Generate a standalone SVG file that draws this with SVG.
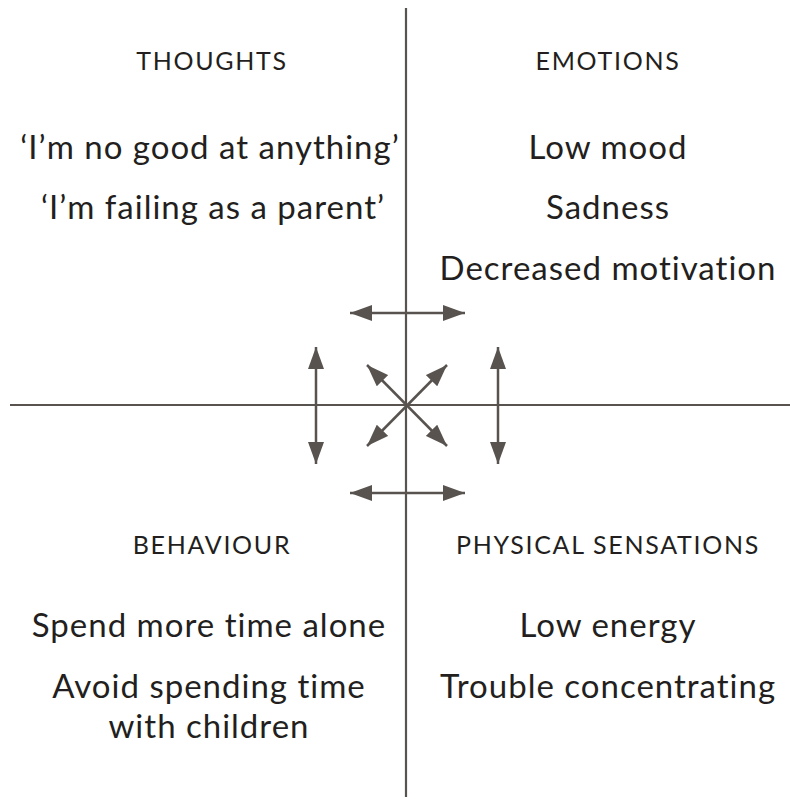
<svg xmlns="http://www.w3.org/2000/svg" width="790" height="799" viewBox="0 0 790 799">
<defs>
<style>
.h{font-family:Lato,"Open Sans","Liberation Sans",sans-serif;font-size:25px;fill:#231f20;text-anchor:middle;letter-spacing:1.7px;font-variant-ligatures:none}
.b{font-family:Lato,"Open Sans","Liberation Sans",sans-serif;font-size:33px;fill:#231f20;text-anchor:middle;letter-spacing:1px;font-variant-ligatures:none}
.ax{stroke:#58534f;stroke-width:2.2;fill:none}
.ar{stroke:#58534f;stroke-width:2.5;fill:none;marker-start:url(#ah);marker-end:url(#ah)}
</style>
<marker id="ah" viewBox="0 0 22 16" refX="22" refY="8" markerWidth="22" markerHeight="16" markerUnits="userSpaceOnUse" orient="auto-start-reverse">
<path d="M0,0 L22,8 L0,16 Z" fill="#58534f"/>
</marker>
</defs>
<rect width="790" height="799" fill="#fff"/>
<g id="connectors">
<line class="ax" x1="406" y1="8" x2="406" y2="797"/>
<line class="ax" x1="10" y1="405" x2="790" y2="405"/>
<line class="ar" x1="350" y1="313" x2="465" y2="313"/>
<line class="ar" x1="350" y1="493" x2="465" y2="493"/>
<line class="ar" x1="316" y1="347" x2="316" y2="464"/>
<line class="ar" x1="498" y1="347" x2="498" y2="464"/>
<line class="ar" x1="367" y1="365" x2="447" y2="446"/>
<line class="ar" x1="447" y1="365" x2="367" y2="446"/>
</g>
<g id="thoughts">
<text class="h" x="212" y="70">THOUGHTS</text>
<text class="b" x="210" y="159">‘I’m no good at anything’</text>
<text class="b" x="213" y="219">‘I’m failing as a parent’</text>
</g>
<g id="emotions">
<text class="h" x="608" y="70">EMOTIONS</text>
<text class="b" x="608" y="159">Low mood</text>
<text class="b" x="608" y="219">Sadness</text>
<text class="b" x="608" y="280">Decreased motivation</text>
</g>
<g id="behaviour">
<text class="h" x="212" y="554">BEHAVIOUR</text>
<text class="b" x="209" y="637">Spend more time alone</text>
<text class="b" x="209" y="698">Avoid spending time</text>
<text class="b" x="209" y="738">with children</text>
</g>
<g id="physical">
<text class="h" x="608" y="554">PHYSICAL SENSATIONS</text>
<text class="b" x="608" y="637">Low energy</text>
<text class="b" x="608" y="698">Trouble concentrating</text>
</g>
</svg>
